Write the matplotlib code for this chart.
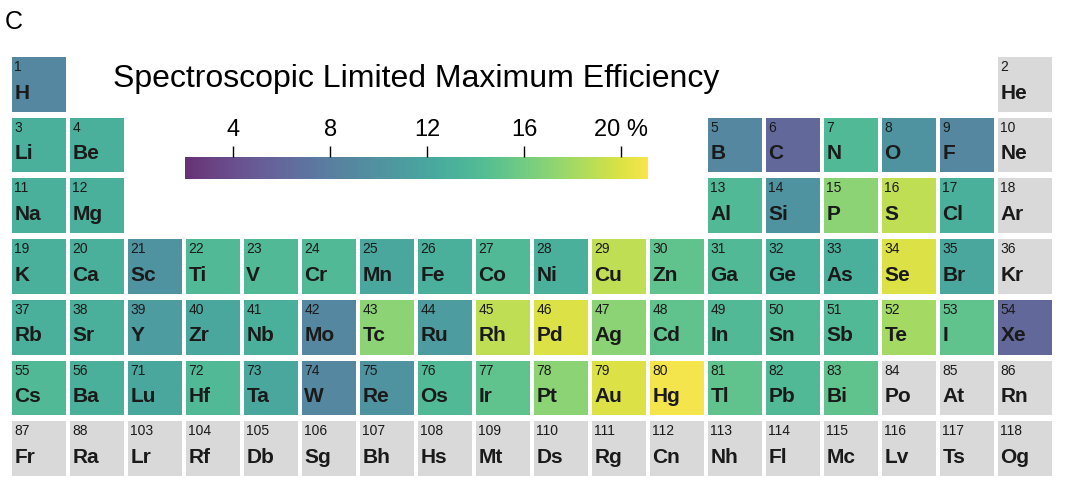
import numpy as np
import matplotlib.pyplot as plt
import matplotlib as mpl

plt.rcParams['font.family'] = ['Liberation Sans', 'DejaVu Sans']

# symbol, row, col, value (None = no data)
symbols = ["H","He","Li","Be","B","C","N","O","F","Ne","Na","Mg","Al","Si","P","S","Cl","Ar",
           "K","Ca","Sc","Ti","V","Cr","Mn","Fe","Co","Ni","Cu","Zn","Ga","Ge","As","Se","Br","Kr",
           "Rb","Sr","Y","Zr","Nb","Mo","Tc","Ru","Rh","Pd","Ag","Cd","In","Sn","Sb","Te","I","Xe",
           "Cs","Ba","Lu","Hf","Ta","W","Re","Os","Ir","Pt","Au","Hg","Tl","Pb","Bi","Po","At","Rn",
           "Fr","Ra","Lr","Rf","Db","Sg","Bh","Hs","Mt","Ds","Rg","Cn","Nh","Fl","Mc","Lv","Ts","Og"]
numbers = [1,2,3,4,5,6,7,8,9,10,11,12,13,14,15,16,17,18,
           19,20,21,22,23,24,25,26,27,28,29,30,31,32,33,34,35,36,
           37,38,39,40,41,42,43,44,45,46,47,48,49,50,51,52,53,54,
           55,56,71,72,73,74,75,76,77,78,79,80,81,82,83,84,85,86,
           87,88,103,104,105,106,107,108,109,110,111,112,113,114,115,116,117,118]
rows = [0,0,1,1,1,1,1,1,1,1,2,2,2,2,2,2,2,2] + [3]*18 + [4]*18 + [5]*18 + [6]*18
cols = [0,17,0,1,12,13,14,15,16,17,0,1,12,13,14,15,16,17] + list(range(18))*4
values = [9,None,13,13,9,6,14,10,9,None,13,13,14,10,17,19,13,None,
          13,13,10,14,14,14,12,13,14,13,19,15,14,13,13,20,12,None,
          13,13,11,12,13,9,17,11,19,20,17,15,14,14,14,18,15,6,
          14,13,12,14,12,9,10,14,15,17,20,21,15,14,15,None,None,None] + [None]*18

vmin, vmax = 2, 21.1
cmap = plt.get_cmap("viridis")
norm = mpl.colors.Normalize(vmin, vmax)

def soften(c, a=0.78):
    c = np.array(c[:3])
    return tuple(c * a + (1 - a) * np.array([0.88, 0.88, 0.88]))

fig = plt.figure(figsize=(10.8, 4.88), dpi=100)
ax = fig.add_axes([12/1080, 6/488, 1044/1080, 425/488])
ax.set_xlim(0, 18)
ax.set_ylim(7, 0)
ax.axis("off")

for s, n, r, c, v in zip(symbols, numbers, rows, cols, values):
    fc = "#d9d9d9" if v is None else soften(cmap(norm(v)))
    ax.add_patch(plt.Rectangle((c, r), 0.93, 0.9, facecolor=fc, edgecolor="none"))
    ax.text(c + 0.04, r + 0.05, str(n), fontsize=10, va="top", ha="left", color="#1a1a1a")
    ax.text(c + 0.04, r + 0.75, s, fontsize=15, fontweight="bold", va="bottom", ha="left", color="#1a1a1a")

fig.text(5/1080, 1 - 22/488, "C", fontsize=18, va="center", ha="left")
fig.text(113/1080, 1 - 79/488, "Spectroscopic Limited Maximum Efficiency", fontsize=23, va="center", ha="left")

cax = fig.add_axes([185/1080, 1 - 179/488, 463/1080, 22/488])
sm = mpl.cm.ScalarMappable(norm=norm, cmap=mpl.colors.ListedColormap([soften(cmap(x)) for x in np.linspace(0, 1, 256)]))
cb = fig.colorbar(sm, cax=cax, orientation="horizontal")
cb.outline.set_visible(False)
cb.set_ticks([4, 8, 12, 16, 20])
cb.set_ticklabels(["4", "8", "12", "16", "20 %"])
cax.xaxis.set_ticks_position("top")
cax.tick_params(labelsize=17, length=8, width=1)

fig.savefig("out.png", dpi=100)
